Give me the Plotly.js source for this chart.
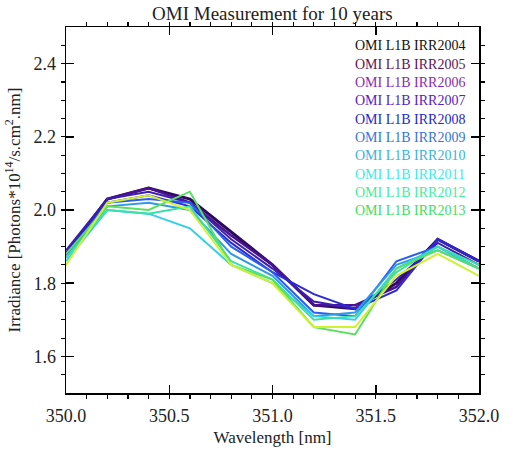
<!DOCTYPE html>
<html>
<head>
<meta charset="utf-8">
<script src="https://cdn.plot.ly/plotly-3.0.1.min.js"></script>
<style>html,body{margin:0;padding:0;background:#fff;}#chart{width:513px;height:462px;}</style>
</head>
<body>
<div id="chart"></div>
<script>
const wavelength = [350.0, 350.2, 350.4, 350.6, 350.8, 351.0, 351.2, 351.4, 351.6, 351.8, 352.0];
const seriesNames = ["OMI L1B IRR2004","OMI L1B IRR2005","OMI L1B IRR2006","OMI L1B IRR2007","OMI L1B IRR2008","OMI L1B IRR2009","OMI L1B IRR2010","OMI L1B IRR2011","OMI L1B IRR2012","OMI L1B IRR2013"];
const irr2004 = [1.88, 2.03, 2.06, 2.03, 1.94, 1.85, 1.74, 1.73, 1.80, 1.92, 1.86];
const irr2005 = [1.88, 2.03, 2.06, 2.02, 1.93, 1.85, 1.74, 1.74, 1.79, 1.92, 1.86];
const irr2006 = [1.89, 2.03, 2.05, 2.02, 1.92, 1.84, 1.75, 1.73, 1.81, 1.91, 1.85];
const irr2007 = [1.88, 2.02, 2.04, 2.01, 1.91, 1.83, 1.77, 1.73, 1.78, 1.92, 1.86];
const irr2008 = [1.87, 2.02, 2.03, 2.02, 1.90, 1.83, 1.72, 1.71, 1.86, 1.90, 1.84];
const irr2009 = [1.87, 2.01, 2.02, 2.00, 1.88, 1.82, 1.71, 1.72, 1.85, 1.89, 1.84];
const irr2010 = [1.86, 2.00, 1.99, 1.95, 1.85, 1.80, 1.71, 1.70, 1.84, 1.90, 1.84];
const irr2011 = [1.87, 2.00, 1.99, 2.01, 1.86, 1.81, 1.70, 1.71, 1.83, 1.90, 1.85];
const irr2012 = [1.88, 2.01, 2.00, 2.05, 1.85, 1.81, 1.68, 1.66, 1.84, 1.89, 1.84];
const irr2013 = [1.85, 2.02, 2.04, 2.00, 1.85, 1.80, 1.68, 1.68, 1.82, 1.88, 1.82];
const allSeries = [irr2004, irr2005, irr2006, irr2007, irr2008, irr2009, irr2010, irr2011, irr2012, irr2013];
const lineColors = ["#2c0b5e","#4a1090","#3c1fb0","#2a2ad8","#2a5ef0","#2e9ae8","#30d0e8","#38e0a8","#5ae060","#d0f030"];
const lineWidths = [3, 2.5, 2, 2, 2, 2, 2, 2, 2, 2];
const labelColors = ["#111111","#5e1258","#8a2ab0","#5522c8","#2228d0","#3575dc","#38b4e0","#38ecec","#40f0a0","#40e060"];

const font = "Liberation Serif";
const traces = allSeries.map((ys, i) => ({
  x: wavelength, y: ys, type: "scatter", mode: "lines", name: seriesNames[i],
  line: {color: lineColors[i], width: lineWidths[i]}, showlegend: false
}));

const annotations = seriesNames.map((n, i) => ({
  text: n, xref: "paper", yref: "paper", x: 0.972, xanchor: "right",
  y: 1 - (19 + i * 18.3) / 366, yanchor: "middle", showarrow: false,
  font: {family: font, size: 14, color: labelColors[i]}
}));

const axisCommon = {
  showgrid: false, zeroline: false, showline: true, linecolor: "#000", linewidth: 1.5,
  mirror: "ticks", ticks: "inside", ticklen: 8, tickwidth: 1.5, tickcolor: "#000",
  tickfont: {family: font, size: 18, color: "#222"}
};

const layout = {
  width: 513, height: 462,
  margin: {l: 66, r: 34, t: 27, b: 69},
  paper_bgcolor: "#fff", plot_bgcolor: "rgba(0,0,0,0)",
  title: {text: "OMI Measurement for 10 years", font: {family: font, size: 19, color: "#222"}, x: 0.531, xanchor: "center", y: 0.972, yanchor: "middle"},
  xaxis: Object.assign({}, axisCommon, {
    range: [350.0, 352.0], tickmode: "linear", tick0: 350.0, dtick: 0.5, tickformat: ".1f",
    minor: {dtick: 0.1, ticklen: 4, tickwidth: 1.2, tickcolor: "#000", showgrid: false},
    layer: "above traces", ticklabelstandoff: 6,
    title: {text: "Wavelength [nm]", font: {family: font, size: 17, color: "#222"}, standoff: 6}
  }),
  yaxis: Object.assign({}, axisCommon, {
    range: [1.5, 2.5], tickmode: "linear", tick0: 1.6, dtick: 0.2, tickformat: ".1f",
    minor: {dtick: 0.05, ticklen: 4, tickwidth: 1.2, tickcolor: "#000", showgrid: false},
    layer: "above traces", ticklabelstandoff: 5,
    title: {text: "Irradiance [Photons*10<sup>14</sup>/s.cm<sup>2</sup>.nm]", font: {family: font, size: 17, color: "#222"}, standoff: 8}
  }),
  annotations: annotations
};

Plotly.newPlot("chart", traces, layout, {staticPlot: true, displayModeBar: false});
</script>
</body>
</html>
